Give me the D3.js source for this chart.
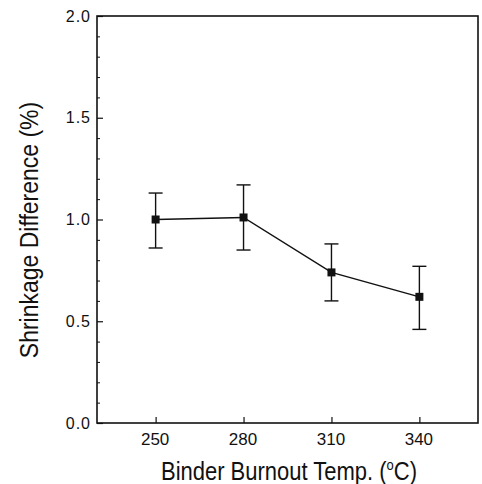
<!DOCTYPE html>
<html><head><meta charset="utf-8">
<script src="https://cdn.jsdelivr.net/npm/d3@7"></script>
<style>body{margin:0;background:#fff}svg{display:block}</style>
</head><body><svg id="c" width="482" height="484"></svg>
<script>
const temps = [250, 280, 310, 340];
const shrinkDiff = [1.00, 1.01, 0.74, 0.62];
const errUpper = [1.13, 1.17, 0.88, 0.77];
const errLower = [0.86, 0.85, 0.60, 0.46];
const xTicks = [250, 280, 310, 340];
const yTicks = [0.0, 0.5, 1.0, 1.5, 2.0];

const svg = d3.select("#c");
const L = 97, R = 478, T = 16, B = 423;
const x = d3.scaleLinear().domain([230, 360]).range([L, R]);
const y = d3.scaleLinear().domain([0, 2]).range([B, T]);
const font = "'Liberation Sans', Arial, sans-serif";
const ink = "#111";

// minor y ticks
const minor = d3.range(0, 2.0001, 0.1).filter(v => Math.abs(v*2 - Math.round(v*2)) > 1e-6);
svg.append("g").attr("transform", `translate(${L},0)`)
  .call(d3.axisLeft(y).tickValues(minor).tickSize(-3).tickFormat(""))
  .call(g => g.select(".domain").remove())
  .selectAll("line").attr("stroke", ink).attr("stroke-width", 1);

// major y axis
const ya = svg.append("g").attr("transform", `translate(${L},0)`)
  .call(d3.axisLeft(y).tickValues(yTicks).tickSize(-6).tickPadding(6).tickFormat(d3.format(".1f")));
ya.select(".domain").remove();
ya.selectAll("line").attr("stroke", ink).attr("stroke-width", 1.2);
ya.selectAll("text").attr("font-family", font).attr("font-size", 16).attr("fill", ink)
  .attr("letter-spacing", "1px");

// x axis
const xa = svg.append("g").attr("transform", `translate(0,${B})`)
  .call(d3.axisBottom(x).tickValues(xTicks).tickSize(-6).tickPadding(10).tickFormat(d3.format("d")));
xa.select(".domain").remove();
xa.selectAll("line").attr("stroke", ink).attr("stroke-width", 1.2);
xa.selectAll("text").attr("font-family", font).attr("font-size", 17).attr("fill", ink).attr("dx", -1);

// frame
svg.append("rect").attr("x", L).attr("y", T).attr("width", R - L).attr("height", B - T)
  .attr("fill", "none").attr("stroke", ink).attr("stroke-width", 1.6);

// data
const data = temps.map((t, i) => ({t, v: shrinkDiff[i], hi: errUpper[i], lo: errLower[i]}));

svg.append("path").datum(data)
  .attr("d", d3.line().x(d => x(d.t)).y(d => y(d.v)))
  .attr("fill", "none").attr("stroke", ink).attr("stroke-width", 1.4);

const eb = svg.append("g").selectAll("g").data(data).join("g");
eb.append("line").attr("x1", d => x(d.t)).attr("x2", d => x(d.t))
  .attr("y1", d => y(d.hi)).attr("y2", d => y(d.lo)).attr("stroke", ink).attr("stroke-width", 1.4);
eb.append("line").attr("x1", d => x(d.t) - 7).attr("x2", d => x(d.t) + 7)
  .attr("y1", d => y(d.hi)).attr("y2", d => y(d.hi)).attr("stroke", ink).attr("stroke-width", 1.4);
eb.append("line").attr("x1", d => x(d.t) - 7).attr("x2", d => x(d.t) + 7)
  .attr("y1", d => y(d.lo)).attr("y2", d => y(d.lo)).attr("stroke", ink).attr("stroke-width", 1.4);

svg.append("g").selectAll("rect").data(data).join("rect")
  .attr("x", d => x(d.t) - 4).attr("y", d => y(d.v) - 4)
  .attr("width", 8).attr("height", 8).attr("fill", ink);

// axis titles
svg.append("text").attr("transform", "translate(38,230) rotate(-90) scale(1,1.15)")
  .attr("text-anchor", "middle").attr("font-family", font).attr("font-size", 23).attr("fill", ink)
  .text("Shrinkage Difference (%)");

const xt = svg.append("text").attr("transform", "translate(289,480) scale(1,1.15)")
  .attr("text-anchor", "middle").attr("font-family", font).attr("font-size", 22).attr("fill", ink);
xt.append("tspan").text("Binder Burnout Temp. (");
xt.append("tspan").attr("font-size", 13).attr("dy", -9).text("o");
xt.append("tspan").attr("dy", 9).text("C)");
</script></body></html>
